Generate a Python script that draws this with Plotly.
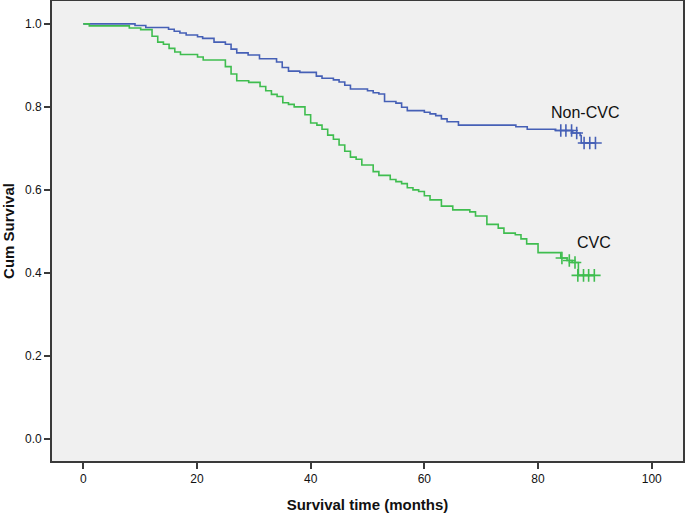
import plotly.graph_objects as go

# Non-CVC (blue) Kaplan-Meier steps
noncvc_time = [0, 9.1, 11.0, 15.0, 16.0, 17.0, 18.1, 20.1, 21.0, 23.0, 25.0, 26.0, 27.0, 29.0,
               31.0, 34.0, 35.0, 36.1, 38.1, 41.0, 42.0, 44.0, 45.0, 46.0, 47.0, 50.0, 51.0,
               52.0, 53.0, 55.0, 56.0, 57.0, 60.0, 61.0, 62.0, 63.0, 64.0, 66.0, 76.1, 78.1,
               83.1, 86.1, 87.4, 87.6, 90.1]
noncvc_surv = [1.0, 0.996, 0.991, 0.987, 0.982, 0.978, 0.973, 0.969, 0.965, 0.956, 0.951, 0.939,
               0.930, 0.925, 0.916, 0.908, 0.895, 0.886, 0.883, 0.874, 0.869, 0.865, 0.860,
               0.852, 0.843, 0.839, 0.834, 0.831, 0.813, 0.809, 0.799, 0.791, 0.787, 0.783,
               0.779, 0.771, 0.764, 0.756, 0.752, 0.746, 0.743, 0.737, 0.731, 0.713, 0.713]
noncvc_cens_time = [84.0, 84.9, 85.9, 86.8, 88.1, 89.1, 90.1]
noncvc_cens_surv = [0.743, 0.743, 0.743, 0.737, 0.713, 0.713, 0.713]

# CVC (green) Kaplan-Meier steps
cvc_time = [0, 1.06, 8.1, 10.1, 12.1, 13.1, 14.1, 15.1, 16.1, 17.1, 20.1, 21.1, 25.0, 26.0,
            27.0, 29.1, 31.1, 32.1, 33.1, 34.1, 35.1, 36.1, 37.1, 39.0, 40.0, 41.1, 42.0,
            43.0, 44.0, 45.0, 46.0, 47.0, 48.0, 49.0, 51.0, 52.0, 54.0, 55.0, 56.0, 57.0,
            58.0, 59.0, 60.0, 61.0, 63.0, 65.0, 68.0, 69.0, 71.0, 73.0, 74.0, 76.0, 77.0,
            78.0, 80.0, 84.0, 85.1, 86.0, 87.1, 89.9]
cvc_surv = [1.0, 0.995, 0.990, 0.986, 0.970, 0.956, 0.951, 0.941, 0.932, 0.926, 0.920, 0.913,
            0.897, 0.879, 0.863, 0.859, 0.849, 0.839, 0.830, 0.825, 0.810, 0.806, 0.800,
            0.781, 0.761, 0.756, 0.746, 0.732, 0.722, 0.708, 0.693, 0.679, 0.674, 0.660,
            0.644, 0.635, 0.625, 0.620, 0.615, 0.605, 0.600, 0.596, 0.586, 0.576, 0.561,
            0.552, 0.547, 0.537, 0.517, 0.508, 0.496, 0.492, 0.482, 0.470, 0.449, 0.436,
            0.430, 0.425, 0.394, 0.394]
cvc_cens_time = [84.2, 85.5, 86.5, 87.0, 88.0, 88.9, 89.9]
cvc_cens_surv = [0.436, 0.430, 0.425, 0.394, 0.394, 0.394, 0.394]

x_ticks = [0, 20, 40, 60, 80, 100]
y_ticks = [0.0, 0.2, 0.4, 0.6, 0.8, 1.0]

BLUE = "#4660B6"
GREEN = "#3FBD4F"
FONT = "Liberation Sans, Arial"

fig = go.Figure()
fig.add_trace(go.Scatter(x=noncvc_time, y=noncvc_surv, mode="lines", line_shape="hv",
                         line=dict(color=BLUE, width=1.6), showlegend=False))
fig.add_trace(go.Scatter(x=cvc_time, y=cvc_surv, mode="lines", line_shape="hv",
                         line=dict(color=GREEN, width=1.6), showlegend=False))
fig.add_trace(go.Scatter(x=noncvc_cens_time, y=noncvc_cens_surv, mode="markers",
                         marker=dict(symbol="cross-thin-open", size=9, color=BLUE,
                                     line=dict(color=BLUE, width=1.6)), showlegend=False))
fig.add_trace(go.Scatter(x=cvc_cens_time, y=cvc_cens_surv, mode="markers",
                         marker=dict(symbol="cross-thin-open", size=9, color=GREEN,
                                     line=dict(color=GREEN, width=1.6)), showlegend=False))

fig.add_annotation(x=88.3, y=0.786, text="Non-CVC", showarrow=False,
                   font=dict(family=FONT, size=16, color="#111"))
fig.add_annotation(x=89.9, y=0.473, text="CVC", showarrow=False,
                   font=dict(family=FONT, size=16, color="#111"))

axis_common = dict(showline=True, linecolor="#3a3a3a", linewidth=1.6, mirror=True,
                   ticks="outside", ticklen=6, tickwidth=1.5, tickcolor="#3a3a3a",
                   showgrid=False, zeroline=False, automargin=False,
                   tickfont=dict(family=FONT, size=12, color="#111"))

fig.update_xaxes(range=[-5.5, 105.5], tickvals=x_ticks,
                 title=dict(text="<b>Survival time (months)</b>", standoff=14,
                            font=dict(family=FONT, size=15, color="#111")),
                 **axis_common)
fig.update_yaxes(range=[-0.053, 1.055], tickvals=y_ticks, tickformat=".1f",
                 title=dict(text="<b>Cum Survival</b>", standoff=7,
                            font=dict(family=FONT, size=15, color="#111")),
                 **axis_common)

fig.update_layout(width=685, height=515, margin=dict(l=52, r=2, t=1, b=54, autoexpand=False),
                  plot_bgcolor="#F0F0F0", paper_bgcolor="white")

fig.write_html("out.html", config={"displayModeBar": False},
               post_script="document.body.style.margin='0';document.body.style.overflow='hidden';")
